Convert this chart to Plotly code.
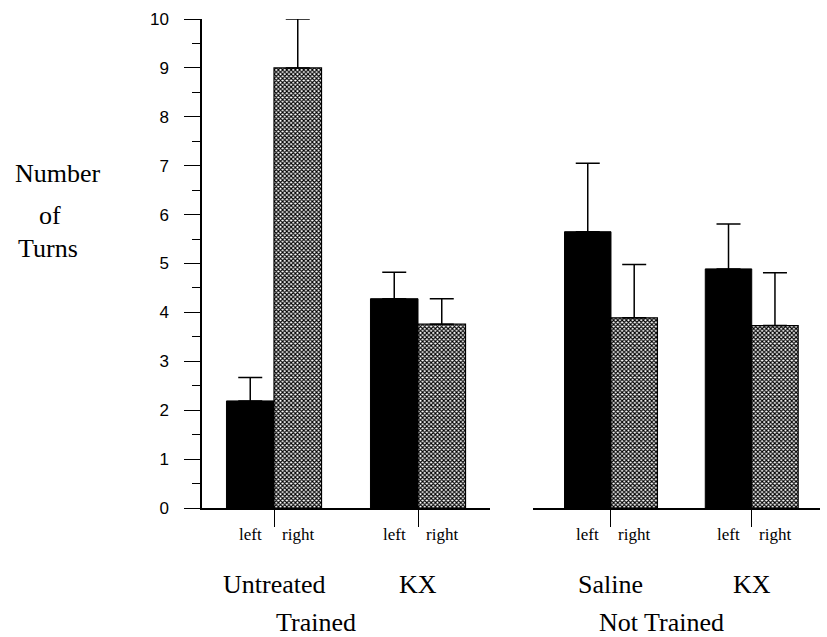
import plotly.graph_objects as go

# Turn counts (mean and upper SEM) by side, for each condition
trained_groups = ["Untreated", "KX"]
trained_left = [2.19, 4.28]
trained_left_err = [0.48, 0.54]
trained_right = [9.0, 3.76]
trained_right_err = [1.0, 0.52]

untrained_groups = ["Saline", "KX"]
untrained_left = [5.65, 4.89]
untrained_left_err = [1.40, 0.92]
untrained_right = [3.89, 3.73]
untrained_right_err = [1.09, 1.08]

side_labels = ["left", "right"]
panel_titles = ["Trained", "Not Trained"]
y_ticks = list(range(0, 11))
y_title_lines = ["Number", "of", "Turns"]

W, H = 827, 637
BARGAP = 0.34
SERIF = "'Liberation Serif', 'Times New Roman', Times, serif"
SANS = "'Liberation Sans', Arial, Helvetica, sans-serif"


def err(vals):
    return dict(type="data", symmetric=False, array=vals, arrayminus=[0] * len(vals),
                width=12, thickness=1.5, color="black")


def solid_bar(x, y, e, xaxis):
    return go.Bar(x=x, y=y, xaxis=xaxis, yaxis="y", error_y=err(e),
                  marker=dict(color="black", line=dict(color="black", width=1)),
                  showlegend=False)


def hatched_bar(x, y, e, xaxis):
    return go.Bar(x=x, y=y, xaxis=xaxis, yaxis="y", error_y=err(e),
                  marker=dict(color="white", line=dict(color="black", width=1.2),
                              pattern=dict(shape="x", size=3, solidity=0.6,
                                           fgcolor="black", bgcolor="white",
                                           fillmode="replace")),
                  showlegend=False)


fig = go.Figure()
fig.add_trace(solid_bar(trained_groups, trained_left, trained_left_err, "x"))
fig.add_trace(hatched_bar(trained_groups, trained_right, trained_right_err, "x"))
fig.add_trace(solid_bar(untrained_groups, untrained_left, untrained_left_err, "x2"))
fig.add_trace(hatched_bar(untrained_groups, untrained_right, untrained_right_err, "x2"))

xcommon = dict(type="category", showline=True, linecolor="black", linewidth=1.5,
               ticks="outside", ticklen=17, tickwidth=1.2, tickcolor="black",
               showticklabels=False, showgrid=False, zeroline=False,
               fixedrange=True, automargin=False)

fig.update_layout(
    width=W, height=H,
    margin=dict(l=0, r=0, t=0, b=0),
    paper_bgcolor="white", plot_bgcolor="white",
    barmode="group", bargap=BARGAP, bargroupgap=0,
    xaxis=dict(domain=[202 / W, 490 / W], range=[-0.5, 1.5], anchor="y", **xcommon),
    xaxis2=dict(domain=[533 / W, 820 / W], range=[-0.554, 1.485], anchor="y", **xcommon),
    yaxis=dict(domain=[(H - 508) / H, (H - 19) / H], range=[0, 10],
               tickvals=y_ticks, ticks="outside", ticklen=16, tickwidth=1.2,
               tickcolor="black", showline=True, linecolor="black", linewidth=1.5,
               minor=dict(dtick=0.5, ticks="outside", ticklen=8, tickwidth=1.2,
                          tickcolor="black", showgrid=False),
               tickfont=dict(family=SANS, size=17, color="black"),
               ticklabelstandoff=12,
               showgrid=False, zeroline=False, fixedrange=True, automargin=False),
)

annotations = []
half = (1 - BARGAP) / 4  # offset from group center to each bar center
for xref, groups in (("x", trained_groups), ("x2", untrained_groups)):
    for i, g in enumerate(groups):
        for side, off in zip(side_labels, (-half, half)):
            annotations.append(dict(x=i + off, y=(H - 534) / H, xref=xref, yref="paper",
                                    text=side, showarrow=False, yanchor="middle",
                                    font=dict(family=SERIF, size=17, color="black")))
        annotations.append(dict(x=i, y=(H - 584) / H, xref=xref, yref="paper",
                                text=g, showarrow=False, yanchor="middle",
                                font=dict(family=SERIF, size=26, color="black")))

annotations.append(dict(x=0.29, y=(H - 622) / H, xref="x", yref="paper",
                        text=panel_titles[0], showarrow=False, yanchor="middle",
                        font=dict(family=SERIF, size=26, color="black")))
annotations.append(dict(x=0.36, y=(H - 622) / H, xref="x2", yref="paper",
                        text=panel_titles[1], showarrow=False, yanchor="middle",
                        font=dict(family=SERIF, size=26, color="black")))

for text, x0, yc in zip(y_title_lines, (13, 37, 16), (173, 215, 248)):
    annotations.append(dict(x=x0 / W, y=(H - yc) / H, xref="paper", yref="paper",
                            text=text, showarrow=False, xanchor="left", yanchor="middle",
                            font=dict(family=SERIF, size=26, color="black")))

fig.update_layout(annotations=annotations)
fig.write_html("out.html")
